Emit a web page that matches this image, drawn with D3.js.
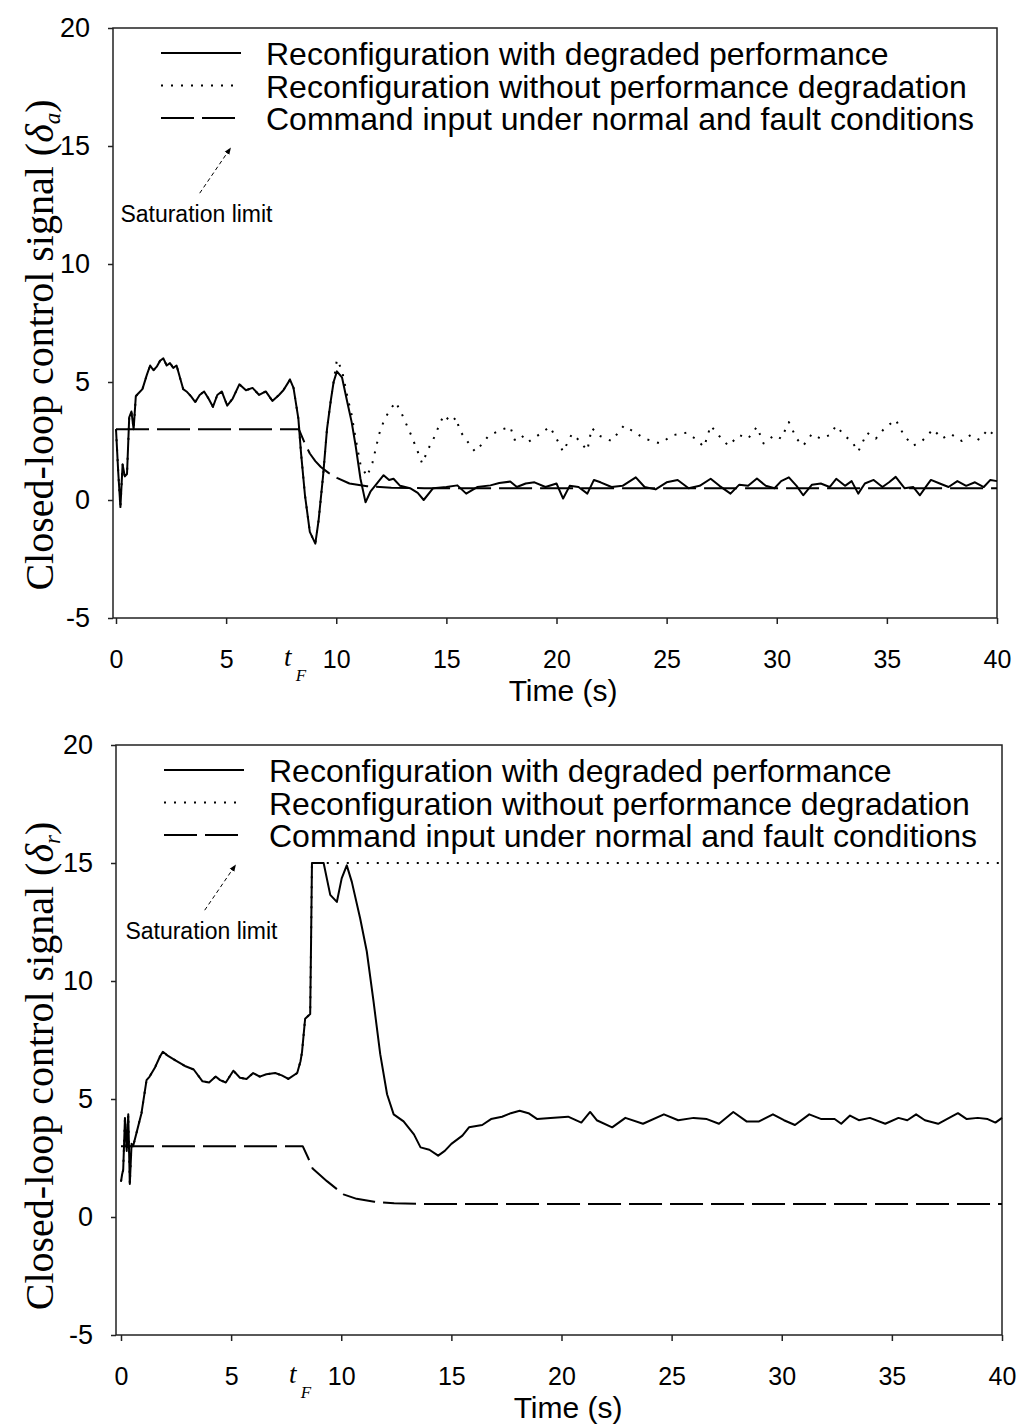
<!DOCTYPE html>
<html>
<head>
<meta charset="utf-8">
<script src="https://cdn.jsdelivr.net/npm/d3@7/dist/d3.min.js"></script>
<style>
  body { margin: 0; background: #fff; }
  svg text { font-family: "Liberation Sans", Arial, sans-serif; fill: #000; }
</style>
</head>
<body>
<svg id="chart" width="1017" height="1424"></svg>
<script>
// ---- data ----
const xTicks = [0, 5, 10, 15, 20, 25, 30, 35, 40];
const yTicks = [-5, 0, 5, 10, 15, 20];
const legendLabels = [
    "Reconfiguration with degraded performance",
    "Reconfiguration without performance degradation",
    "Command input under normal and fault conditions"
];
const saturationLevel = 15;

// top panel: aileron (delta_a)
const aDegrTime = [
    0, 0.1, 0.2, 0.3, 0.4, 0.5, 0.6, 0.7, 0.8, 0.9,
    1.0, 1.2, 1.4, 1.55, 1.7, 1.85, 2.0, 2.15, 2.3, 2.45,
    2.6, 2.75, 2.9, 3.05, 3.2, 3.4, 3.6, 3.8, 4.0, 4.2,
    4.4, 4.6, 4.8, 5.05, 5.3, 5.6, 5.9, 6.2, 6.5, 6.8,
    7.1, 7.4, 7.6, 7.9, 8.06, 8.28, 8.4, 8.58, 8.8, 9.05,
    9.2, 9.4, 9.58, 9.75, 9.88, 10.03, 10.26, 10.5, 10.7, 10.88,
    11.1, 11.33, 11.55, 11.85, 12.15, 12.4, 12.6, 12.9, 13.35, 13.7,
    13.97, 14.4, 15.0, 15.5, 15.9, 16.4, 17.0, 17.4, 17.9, 18.2,
    18.6, 19.0, 19.5, 20.0, 20.3, 20.6, 21.0, 21.4, 21.7, 22.0,
    22.5, 23.0, 23.6, 24.0, 24.5, 25.0, 25.5, 26.0, 26.5, 27.0,
    27.4, 27.9, 28.3, 28.7, 29.1, 29.5, 29.9, 30.2, 30.55, 30.9,
    31.2, 31.6, 32.0, 32.4, 32.7, 33.1, 33.4, 33.7, 34.0, 34.4,
    34.8, 35.1, 35.4, 35.8, 36.2, 36.5, 36.8, 37.0, 37.4, 37.8,
    38.2, 38.6, 39.0, 39.4, 39.7, 40.0
];
const aDegr = [
    3.0, 1.2, -0.3, 1.5, 1.0, 1.1, 3.5, 3.75, 3.0, 4.4,
    4.5, 4.7, 5.3, 5.7, 5.5, 5.65, 5.9, 6.0, 5.7, 5.8,
    5.6, 5.7, 5.2, 4.7, 4.6, 4.4, 4.15, 4.45, 4.6, 4.3,
    3.95, 4.45, 4.6, 4.0, 4.3, 4.9, 4.65, 4.75, 4.45, 4.6,
    4.2, 4.45, 4.65, 5.1, 4.75, 3.45, 2.0, 0.2, -1.35, -1.85,
    -0.85, 1.0, 3.0, 4.2, 5.0, 5.45, 5.2, 4.15, 3.3, 2.3,
    0.9, -0.1, 0.35, 0.7, 1.05, 0.85, 0.9, 0.6, 0.5, 0.3,
    0.0, 0.5, 0.55, 0.62, 0.27, 0.55, 0.62, 0.72, 0.78, 0.55,
    0.7, 0.75, 0.55, 0.7, 0.06, 0.6, 0.55, 0.27, 0.85, 0.75,
    0.55, 0.6, 0.96, 0.55, 0.45, 0.75, 0.85, 0.5, 0.6, 0.9,
    0.6, 0.27, 0.65, 0.6, 0.91, 0.6, 0.5, 0.8, 0.96, 0.6,
    0.2, 0.65, 0.7, 0.55, 0.9, 0.6, 0.8, 0.27, 0.7, 0.85,
    0.55, 0.75, 0.98, 0.5, 0.55, 0.2, 0.6, 0.85, 0.7, 0.55,
    0.8, 0.6, 0.75, 0.55, 0.85, 0.8
];
// follows the degraded curve until t = 9.88, then these values
const aFullTime = [
    10.03, 10.26, 10.5, 10.7, 10.88, 11.1, 11.4, 11.65, 11.95, 12.2,
    12.5, 12.7, 13.0, 13.4, 13.7, 13.9, 14.2, 14.5, 14.7, 14.9,
    15.2, 15.45, 15.6, 15.9, 16.3, 16.6, 16.9, 17.4, 17.9, 18.1,
    18.4, 18.7, 19.1, 19.7, 20.0, 20.3, 20.7, 21.0, 21.4, 21.6,
    22.0, 22.5, 23.06, 23.5, 24.0, 24.7, 25.3, 25.9, 26.3, 26.7,
    27.0, 27.4, 27.8, 28.3, 28.7, 29.1, 29.4, 29.9, 30.2, 30.55,
    30.9, 31.2, 31.6, 32.0, 32.4, 32.7, 33.1, 33.4, 33.7, 34.1,
    34.5, 34.9, 35.4, 35.8, 36.2, 36.6, 37.1, 37.5, 37.9, 38.4,
    38.8, 39.2, 39.6, 40.0
];
const aFull = [
    5.95, 5.5, 4.4, 3.6, 2.6, 1.5, 1.0, 1.6, 2.8, 3.45,
    3.9, 4.15, 3.6, 2.75, 2.05, 1.55, 2.2, 2.75, 3.25, 3.6,
    3.3, 3.5, 2.95, 2.55, 2.05, 2.35, 2.7, 2.95, 3.1, 2.55,
    2.75, 2.45, 2.7, 3.1, 2.6, 2.05, 2.8, 2.55, 2.1, 3.05,
    2.7, 2.5, 3.15, 2.9, 2.6, 2.4, 2.75, 2.85, 2.6, 2.25,
    3.15, 2.7, 2.3, 2.75, 2.6, 3.1, 2.4, 2.75, 2.6, 3.3,
    2.6, 2.3, 2.8, 2.6, 2.75, 3.15, 2.7, 2.5, 2.05, 2.85,
    2.6, 3.05, 3.4, 2.7, 2.3, 2.5, 3.0, 2.6, 2.8, 2.5,
    2.75, 2.55, 3.0, 2.6
];
const aCmdTime = [0, 8.3, 8.55, 8.8, 9.05, 9.3, 9.65, 10.03, 10.6, 11.4, 12.5, 14, 40];
const aCmd = [3, 3, 2.45, 1.97, 1.65, 1.4, 1.15, 0.94, 0.7, 0.58, 0.52, 0.5, 0.5];

// bottom panel: rudder (delta_r)
const rDegrTime = [
    0, 0.05, 0.1, 0.18, 0.26, 0.33, 0.4, 0.48, 0.55, 0.7,
    0.93, 1.16, 1.3, 1.55, 1.77, 1.9, 2.1, 2.45, 2.9, 3.3,
    3.7, 4.0, 4.3, 4.5, 4.76, 5.1, 5.4, 5.7, 6.0, 6.3,
    6.6, 7.0, 7.3, 7.6, 8.0, 8.15, 8.22, 8.36, 8.59, 8.63,
    8.67, 9.2, 9.5, 9.8, 10.02, 10.25, 10.48, 10.86, 11.16, 11.47,
    11.77, 12.08, 12.38, 12.83, 13.3, 13.6, 14.0, 14.4, 14.7, 15.0,
    15.5, 15.8, 16.4, 16.8, 17.3, 17.7, 18.1, 18.5, 18.9, 19.5,
    20.3, 20.9, 21.3, 21.6, 22.3, 22.9, 23.7, 24.65, 25.3, 26.0,
    26.6, 27.15, 27.8, 28.4, 28.97, 29.6, 30.1, 30.6, 31.25, 31.8,
    32.4, 32.7, 33.1, 33.5, 34.0, 34.7, 35.3, 35.7, 36.1, 36.5,
    37.1, 37.6, 38.0, 38.4, 38.9, 39.35, 39.7, 40.0
];
const rDegr = [
    1.5, 1.8, 2.0, 4.2, 2.8, 4.35, 1.4, 3.1, 3.0, 3.55,
    4.4, 5.8, 5.95, 6.35, 6.8, 7.0, 6.85, 6.65, 6.4, 6.25,
    5.75, 5.7, 5.95, 5.8, 5.7, 6.2, 5.9, 5.85, 6.1, 5.95,
    6.05, 6.1, 6.0, 5.85, 6.1, 6.6, 7.0, 8.4, 8.6, 11.7,
    15.0, 15.0, 13.65, 13.35, 14.35, 14.9, 14.2, 12.65, 11.25, 9.1,
    6.9, 5.2, 4.35, 4.05, 3.5, 2.95, 2.85, 2.6, 2.8, 3.1,
    3.45, 3.8, 3.9, 4.15, 4.25, 4.4, 4.5, 4.4, 4.15, 4.2,
    4.25, 4.0, 4.45, 4.1, 3.8, 4.2, 3.95, 4.35, 4.1, 4.2,
    4.15, 3.95, 4.45, 4.05, 4.05, 4.35, 4.1, 3.9, 4.35, 4.15,
    4.15, 3.95, 4.3, 4.1, 4.2, 3.95, 4.2, 4.1, 4.35, 4.1,
    3.95, 4.2, 4.4, 4.15, 4.2, 4.15, 4.0, 4.2
];
// follows the degraded curve until it hits the limit at t = 8.67, then stays there
const rFullTime = [40];
const rFull = [15];
const rCmdTime = [0, 8.25, 8.5, 8.7, 9.35, 10.1, 10.7, 11.5, 12.4, 14, 40];
const rCmd = [3, 3, 2.5, 2.05, 1.52, 0.96, 0.77, 0.65, 0.58, 0.55, 0.55];

// ---- helpers ----
function pairs(t, v, name) {
    if (t.length !== v.length) throw new Error(name + ": " + t.length + " times vs " + v.length + " values");
    return d3.zip(t, v);
}

const aDegrData = pairs(aDegrTime, aDegr, "aDegr");
const aFullData = aDegrData.filter(d => d[0] <= 9.88).concat(pairs(aFullTime, aFull, "aFull"));
const aCmdData = pairs(aCmdTime, aCmd, "aCmd");
const rDegrData = pairs(rDegrTime, rDegr, "rDegr");
const rFullData = rDegrData.filter(d => d[0] <= 8.67).concat(pairs(rFullTime, rFull, "rFull"));
const rCmdData = pairs(rCmdTime, rCmd, "rCmd");

// line styles (same order as legendLabels)
const styles = [
    { dash: null, width: 2 },
    { dash: "2,8", width: 2 },
    { dash: "33,8", width: 2 }
];

const svg = d3.select("#chart");

// arrow head for the "Saturation limit" note
svg.append("defs").append("marker")
    .attr("id", "arrow")
    .attr("viewBox", "0 0 10 10")
    .attr("refX", 9).attr("refY", 5)
    .attr("markerWidth", 7).attr("markerHeight", 7)
    .attr("orient", "auto")
    .append("path")
    .attr("d", "M0,1 L10,5 L0,9 Z")
    .attr("fill", "#000");

function drawPanel(cfg) {
    const x = d3.scaleLinear().domain([0, 40]).range([cfg.x0, cfg.x1]);
    const y = d3.scaleLinear().domain([-5, 20]).range([cfg.yBottom, cfg.yTop]);
    const frameLeft = cfg.x0 - cfg.gap;
    const g = svg.append("g");

    // frame
    g.append("rect")
        .attr("x", frameLeft)
        .attr("y", y(20))
        .attr("width", x(40) - frameLeft)
        .attr("height", y(-5) - y(20))
        .attr("fill", "none")
        .attr("stroke", "#222")
        .attr("stroke-width", 1.5);

    // y axis (plain hyphen for negatives, as in the original)
    const yAxis = g.append("g")
        .attr("transform", `translate(${frameLeft},0)`)
        .call(d3.axisLeft(y).tickValues(yTicks).tickSize(5).tickPadding(18)
            .tickFormat(d => String(d)));
    yAxis.select(".domain").remove();
    yAxis.selectAll("line").attr("stroke", "#222").attr("stroke-width", 1.5);
    yAxis.selectAll("text")
        .attr("font-family", "Liberation Sans, Arial, sans-serif")
        .style("font-size", "27px");

    // x axis
    const xAxis = g.append("g")
        .attr("transform", `translate(0,${y(-5)})`)
        .call(d3.axisBottom(x).tickValues(xTicks).tickSize(6).tickPadding(26)
            .tickFormat(d => String(d)));
    xAxis.select(".domain").remove();
    xAxis.selectAll("line").attr("stroke", "#222").attr("stroke-width", 1.5);
    xAxis.selectAll("text")
        .attr("font-family", "Liberation Sans, Arial, sans-serif")
        .style("font-size", "25px");

    // fault time marker t_F
    g.append("text")
        .attr("x", x(7.8))
        .attr("y", y(-5) + 48)
        .attr("text-anchor", "middle")
        .style("font-family", "Liberation Serif, serif")
        .style("font-style", "italic")
        .style("font-size", "27px")
        .text("t");
    g.append("text")
        .attr("x", x(8.4))
        .attr("y", y(-5) + 63)
        .attr("text-anchor", "middle")
        .style("font-family", "Liberation Serif, serif")
        .style("font-style", "italic")
        .style("font-size", "17px")
        .text("F");

    // x title
    g.append("text")
        .attr("x", x(20.3))
        .attr("y", y(-5) + 83)
        .attr("text-anchor", "middle")
        .style("font-size", "30px")
        .text("Time (s)");

    // y title
    const yTitle = g.append("text")
        .attr("transform", `translate(53,${cfg.titleY}) rotate(-90)`)
        .attr("text-anchor", "middle")
        .style("font-family", "Liberation Serif, 'Times New Roman', serif")
        .style("font-size", "40px");
    yTitle.append("tspan").text("Closed-loop control signal (");
    yTitle.append("tspan").style("font-style", "italic").text("\u03B4");
    yTitle.append("tspan").style("font-style", "italic").style("font-size", "23px")
        .attr("dy", 7).text(cfg.sub);
    yTitle.append("tspan").attr("dy", -7).text(")");

    // series
    const line = d3.line().x(d => x(d[0])).y(d => y(d[1]));
    const series = [cfg.degr, cfg.full, cfg.cmd];
    series.forEach((data, i) => {
        g.append("path")
            .datum(data)
            .attr("fill", "none")
            .attr("stroke", "#000")
            .attr("stroke-width", styles[i].width)
            .attr("stroke-linejoin", "round")
            .attr("stroke-dasharray", styles[i].dash)
            .attr("d", line);
    });

    // legend
    const top = y(20);
    legendLabels.forEach((label, i) => {
        const base = top + 37 + i * 32.5;
        g.append("line")
            .attr("x1", frameLeft + 48).attr("x2", frameLeft + 128)
            .attr("y1", base - 12).attr("y2", base - 12)
            .attr("stroke", "#000")
            .attr("stroke-width", styles[i].width)
            .attr("stroke-dasharray", styles[i].dash);
        g.append("text")
            .attr("x", frameLeft + 153)
            .attr("y", base)
            .style("font-size", "32px")
            .text(label);
    });

    // saturation limit note
    g.append("line")
        .attr("x1", x(3.8)).attr("y1", y(13.0))
        .attr("x2", x(5.2)).attr("y2", y(saturationLevel) + 2)
        .attr("stroke", "#000")
        .attr("stroke-width", 1)
        .attr("stroke-dasharray", "4,3")
        .attr("marker-end", "url(#arrow)");
    g.append("text")
        .attr("x", x(0.2))
        .attr("y", y(11.8))
        .style("font-size", "23px")
        .text("Saturation limit");
}

drawPanel({ x0: 116, x1: 997, yTop: 28, yBottom: 618, gap: 3, titleY: 345, sub: "a",
            degr: aDegrData, full: aFullData, cmd: aCmdData });
drawPanel({ x0: 121, x1: 1002, yTop: 745, yBottom: 1335, gap: 5, titleY: 1066, sub: "r",
            degr: rDegrData, full: rFullData, cmd: rCmdData });
</script>
</body>
</html>
